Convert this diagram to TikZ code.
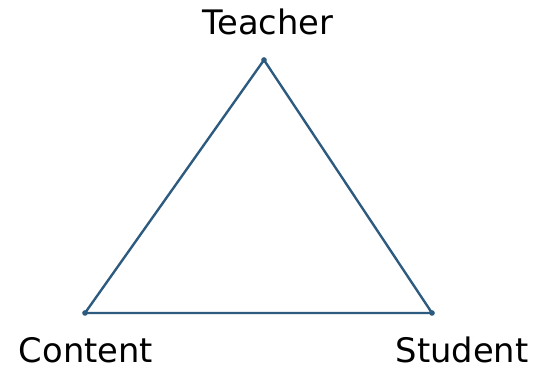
\documentclass[tikz,border=0pt]{standalone}
\usepackage{fontspec}
\setmainfont{DejaVu Sans}
\usetikzlibrary{positioning}
\definecolor{edgeBlue}{HTML}{2D5B80}
\tikzset{
  vertice/.style={circle, fill=edgeBlue, inner sep=0pt, minimum size=4pt},
  lado/.style={draw=edgeBlue, line width=1.7pt, line join=round},
  etiqueta/.style={anchor=base, inner sep=0pt, font=\fontsize{24}{28}\selectfont},
}
\begin{document}
\begin{tikzpicture}
\useasboundingbox (0,0) rectangle (13.5,9.275);
% vertices
\node[vertice] (teacher) at (6.6,7.775) {};
\node[vertice] (content) at (2.125,1.45) {};
\node[vertice] (student) at (10.8,1.45) {};
% sides
\draw[lado] (teacher.center) -- (content.center) -- (student.center) -- cycle;
% labels
\node[etiqueta] (lteacher) at (6.7,8.4) {Teacher};
\node[etiqueta] (lcontent) at (2.15,0.2) {Content};
\node[etiqueta] (lstudent) at (11.55,0.2) {Student};
\end{tikzpicture}
\end{document}
